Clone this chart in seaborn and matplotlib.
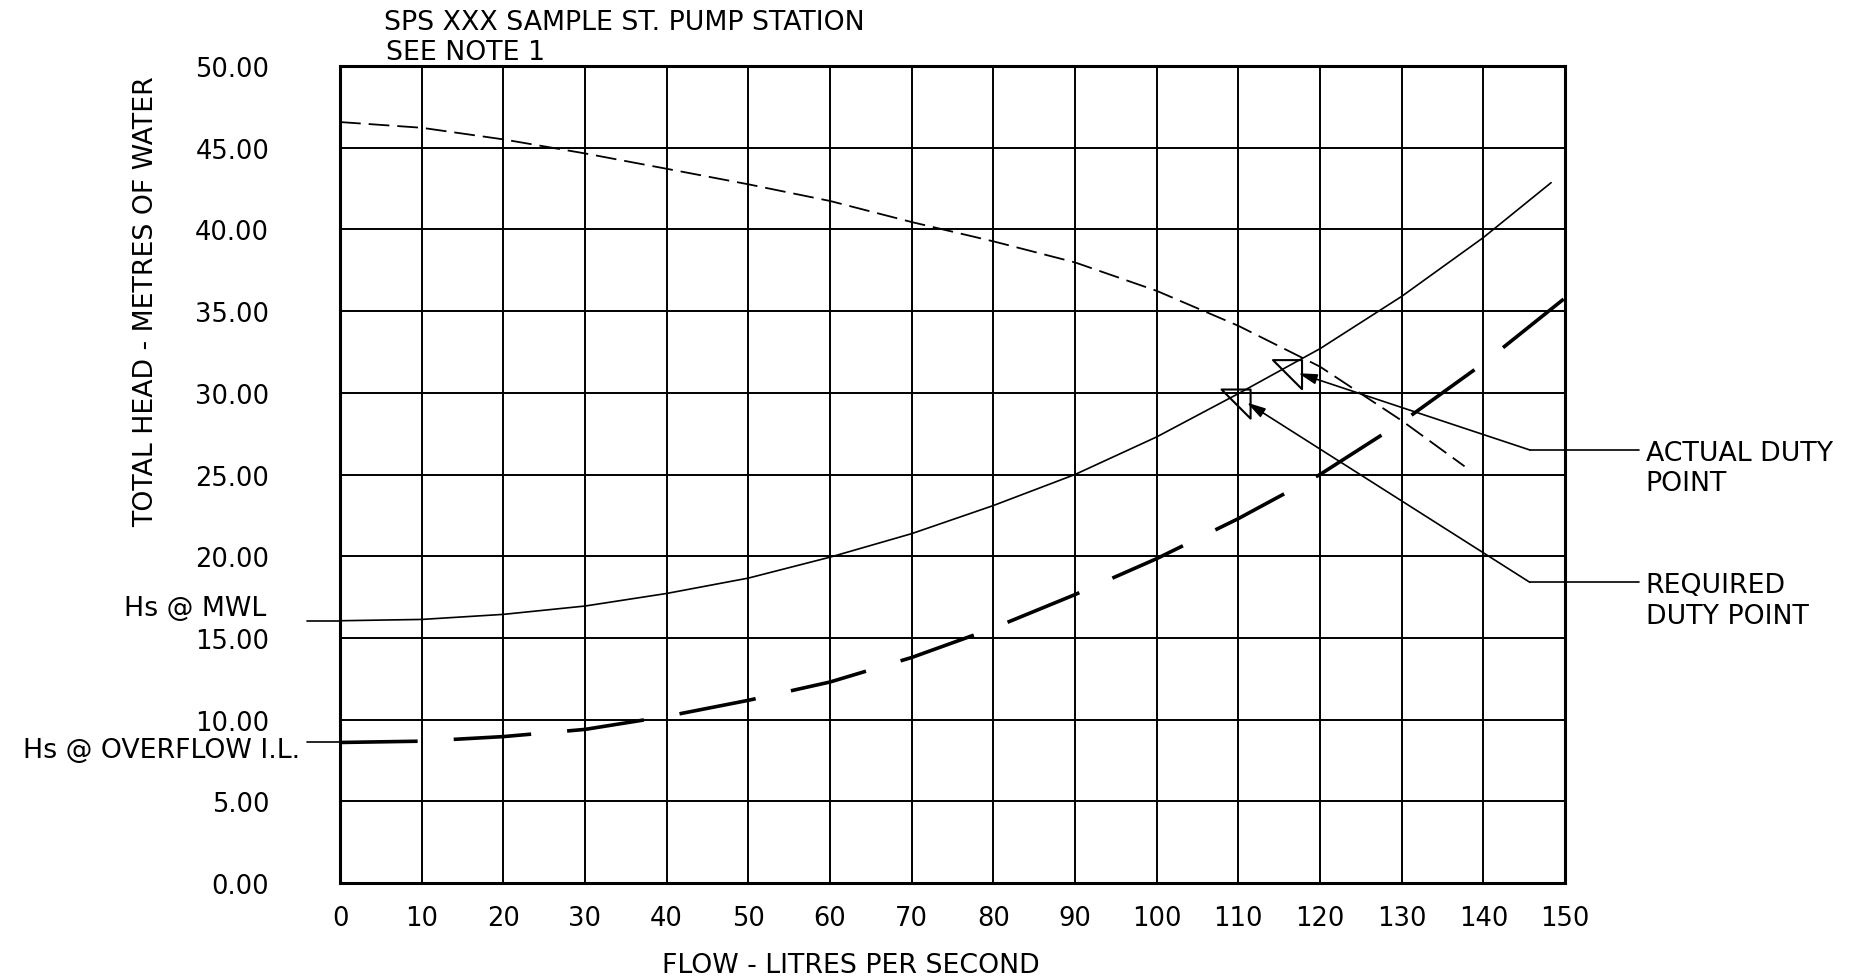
import numpy as np
import seaborn as sns
import matplotlib.pyplot as plt
from matplotlib.path import Path

# pump curve (thin dashed) - flow L/s vs head m
pump_q = [0, 10, 20, 30, 40, 50, 60, 70, 80, 90, 100, 110, 120, 130, 137.7]
pump_h = [46.57, 46.22, 45.51, 44.65, 43.71, 42.76, 41.74, 40.45, 39.27,
          37.98, 36.24, 34.1, 31.6, 28.3, 25.5]

# system curve from Hs @ MWL (thin solid)
mwl_q = [0, 10, 20, 30, 40, 50, 60, 70, 80, 90, 100, 110, 120, 130, 140, 148.3]
mwl_h = [16.05, 16.13, 16.44, 16.95, 17.72, 18.66, 19.94, 21.38, 23.1,
         25.0, 27.3, 29.95, 32.7, 35.9, 39.5, 42.86]

# system curve from Hs @ overflow I.L. (thick dashed)
ovf_q = [0, 10, 20, 30, 40, 50, 60, 70, 80, 90, 100, 110, 120, 130, 140, 150]
ovf_h = [8.6, 8.68, 8.96, 9.4, 10.2, 11.18, 12.3, 13.8, 15.6, 17.65,
         19.85, 22.3, 25.0, 28.2, 31.8, 35.8]

hs_mwl = 16.05
hs_overflow = 8.6

# duty points: required, actual
duty_q = [111.5, 117.8]
duty_h = [30.2, 32.0]
duty_labels = ["REQUIRED\nDUTY POINT", "ACTUAL DUTY\nPOINT"]

x_ticks = list(range(0, 151, 10))
y_ticks = list(np.arange(0, 51, 5))

sns.set_style("white")
plt.rcParams['font.family'] = ['DejaVu Sans']
plt.rcParams['font.size'] = 19.3
plt.rcParams['text.color'] = 'black'

W, H = 1865, 979
fig = plt.figure(figsize=(W / 100, H / 100), dpi=100)
ax = fig.add_axes([340 / W, 95 / H, 1225 / W, 817 / H])

ax.set_xlim(0, 150)
ax.set_ylim(0, 50)
ax.set_xticks(x_ticks)
ax.set_yticks(y_ticks)
ax.set_yticklabels([f"{v:.2f}" for v in y_ticks])
ax.grid(True, color='black', lw=1.4)
ax.set_axisbelow(True)
ax.tick_params(axis='x', length=0, pad=16, labelsize=18.5, colors='black')
ax.tick_params(axis='y', length=0, pad=51, labelsize=18.5, colors='black')
for s in ax.spines.values():
    s.set_color('black')
    s.set_linewidth(2.2)

# curves
sns.lineplot(x=pump_q, y=pump_h, ax=ax, color='black', lw=1.3,
             linestyle=(0, (11.5, 4.4)))
sns.lineplot(x=mwl_q, y=mwl_h, ax=ax, color='black', lw=1.2)
sns.lineplot(x=ovf_q, y=ovf_h, ax=ax, color='black', lw=2.6,
             linestyle=(0, (21.5, 10)))

# leaders for the static heads
sns.lineplot(x=[-4.0, 0], y=[hs_mwl, hs_mwl], ax=ax, color='black', lw=1.2, clip_on=False)
sns.lineplot(x=[-4.0, 0], y=[hs_overflow, hs_overflow], ax=ax, color='black', lw=1.2, clip_on=False)
fig.text(266 / W, 1 - 609 / H, "Hs @ MWL", ha='right', va='center')
fig.text(300 / W, 1 - 751 / H, "Hs @ OVERFLOW I.L.", ha='right', va='center')

# duty point triangles
tri = Path([(0, 0), (-1, 0), (0, -1), (0, 0)],
           [Path.MOVETO, Path.LINETO, Path.LINETO, Path.CLOSEPOLY])
sns.scatterplot(x=duty_q, y=duty_h, ax=ax, marker=tri, s=1750,
                facecolor='none', edgecolor='black', linewidth=1.5, zorder=4)

# callouts
elbow_y = [18.4, 26.5]
for q, h, ey, lab in zip(duty_q, duty_h, elbow_y, duty_labels):
    ax.annotate("", xy=(q - 0.45, h - 0.8), xytext=(145.7, ey),
                arrowprops=dict(arrowstyle="-|>,head_length=0.8,head_width=0.22",
                                mutation_scale=14, lw=1.2, color='black',
                                shrinkA=0, shrinkB=0),
                annotation_clip=False)
    ax.plot([145.7, 159.0], [ey, ey], color='black', lw=1.2, clip_on=False)
    ax.text(159.9, ey + 0.64, lab, ha='left', va='top', linespacing=1.24)

# titles and axis labels
fig.text(384 / W, 1 - 23.5 / H, "SPS XXX SAMPLE ST. PUMP STATION", ha='left', va='center')
fig.text(386 / W, 1 - 53.5 / H, "SEE NOTE 1", ha='left', va='center')
fig.text(851 / W, 1 - 966 / H, "FLOW - LITRES PER SECOND", ha='center', va='center')
fig.text(146 / W, 1 - 302 / H, "TOTAL HEAD - METRES OF WATER", ha='center', va='center',
         rotation=90)

fig.savefig("out.png", dpi=100, facecolor='white')
